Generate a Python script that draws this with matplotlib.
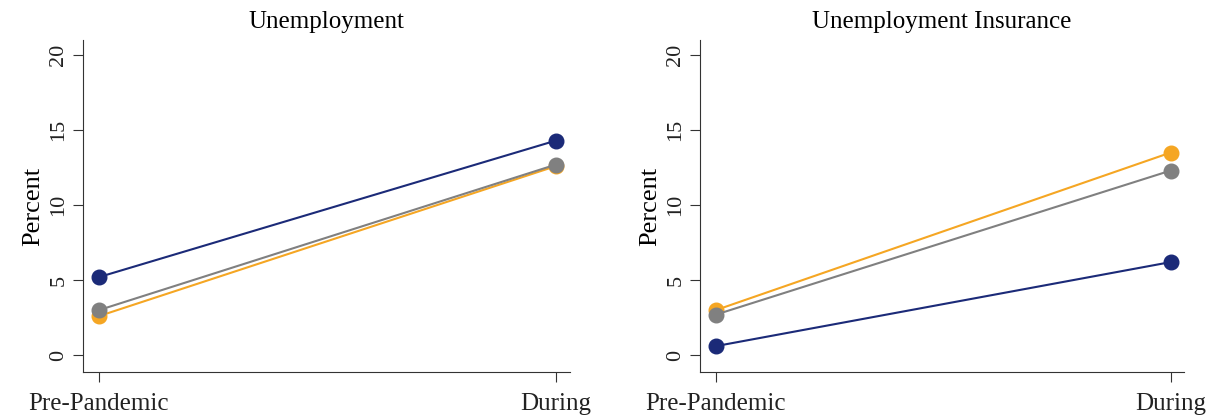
import matplotlib.pyplot as plt

periods = ["Pre-Pandemic", "During"]

# Unemployment panel
unemp_navy = [5.2, 14.3]
unemp_gray = [3.0, 12.7]
unemp_orange = [2.6, 12.6]

# Unemployment Insurance panel
ui_orange = [3.0, 13.5]
ui_gray = [2.7, 12.3]
ui_navy = [0.6, 6.2]

navy = "#1b2a78"
gray = "#808080"
orange = "#f5a623"

plt.rcParams["font.family"] = ["Liberation Serif", "DejaVu Serif"]

fig = plt.figure(figsize=(12.11, 4.19), dpi=100)
ax1 = fig.add_axes([0.0685, 0.112, 0.402, 0.7925])
ax2 = fig.add_axes([0.578, 0.112, 0.400, 0.7925])


def draw(ax, title, series):
    x = range(len(periods))
    for vals, col in series:
        ax.plot(x, vals, color=col, lw=1.5, marker="o", markersize=10.5, zorder=3)
    ax.set_xlim(-0.035, 1.03)
    ax.set_ylim(-1.13, 21)
    ax.set_xticks(list(x))
    ax.set_xticklabels(periods, fontsize=18)
    ax.set_yticks([0, 5, 10, 15, 20])
    ax.set_yticklabels(["0", "5", "10", "15", "20"], rotation=90, va="center", fontsize=16)
    ax.set_ylabel("Percent", fontsize=19, labelpad=4)
    ax.set_title(title, fontsize=18, pad=9)
    for s in ["top", "right"]:
        ax.spines[s].set_visible(False)
    ax.spines["left"].set_color("#333333")
    ax.spines["bottom"].set_color("#333333")
    ax.tick_params(direction="out", length=7, color="#333333", labelcolor="#222222")
    ax.tick_params(axis="x", pad=8)


draw(ax1, "Unemployment", [(unemp_orange, orange), (unemp_gray, gray), (unemp_navy, navy)])
draw(ax2, "Unemployment Insurance", [(ui_navy, navy), (ui_orange, orange), (ui_gray, gray)])

fig.savefig("out.png", dpi=100, facecolor="white")
